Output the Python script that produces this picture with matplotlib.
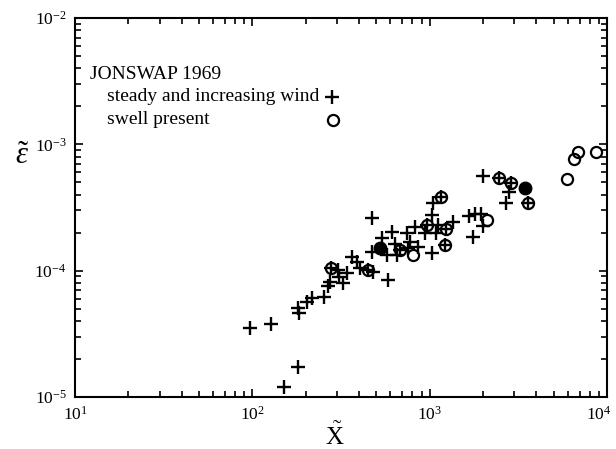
"""
JONSWAP 1969: dimensionless energy vs fetch, log-log scatter.
"""
import matplotlib
matplotlib.use("Agg")
import matplotlib.pyplot as plt
from matplotlib.transforms import ScaledTranslation

plt.rcParams.update({
    "font.family": "Liberation Serif",
    "mathtext.fontset": "custom",
    "mathtext.rm": "Liberation Serif",
    "mathtext.it": "Liberation Serif:italic",
    "font.size": 13,
})

# steady and increasing wind (+)
wind_x = [97, 127, 150, 181, 181, 184, 203, 216, 254, 266, 274, 306, 310, 326,
          343, 364, 388, 405, 480, 471, 471, 537, 573, 585, 611, 638, 652, 743,
          775, 758, 827, 863, 942, 1028, 1028, 1050, 1087, 1114, 1361, 1675,
          1803, 1950, 2009, 1750, 1995, 2812, 2698,
          278, 451, 681, 964, 1156, 1236, 1222, 2471, 2865, 3606]
wind_y = [3.49e-5, 3.76e-5, 1.19e-5, 1.73e-5, 5.06e-5, 4.65e-5, 5.68e-5, 6.04e-5,
          6.21e-5, 7.55e-5, 8.13e-5, 1.01e-4, 8.85e-5, 8.02e-5, 9.62e-5, 1.29e-4,
          1.18e-4, 1.05e-4, 9.8e-5, 2.59e-4, 1.41e-4, 1.80e-4, 1.33e-4, 8.43e-5,
          2.03e-4, 1.64e-4, 1.33e-4, 1.97e-4, 1.69e-4, 1.50e-4, 2.23e-4, 1.55e-4,
          1.97e-4, 2.75e-4, 1.37e-4, 3.41e-4, 1.99e-4, 2.30e-4, 2.44e-4, 2.70e-4,
          2.81e-4, 2.81e-4, 2.25e-4, 1.85e-4, 5.61e-4, 4.22e-4, 3.41e-4,
          1.05e-4, 1.01e-4, 1.46e-4, 2.30e-4, 3.81e-4, 2.15e-4, 1.60e-4,
          5.46e-4, 4.97e-4, 3.41e-4]

# swell present (o)
swell_x = [278, 451, 681, 964, 1156, 1236, 1222, 2471, 2865, 3606,
           804, 2099, 5957, 6517, 6885, 8693]
swell_y = [1.05e-4, 1.01e-4, 1.46e-4, 2.30e-4, 3.81e-4, 2.15e-4, 1.60e-4,
           5.46e-4, 4.97e-4, 3.41e-4,
           1.33e-4, 2.52e-4, 5.35e-4, 7.67e-4, 8.73e-4, 8.73e-4]

# overlapping circles that print as solid dots
solid_x = [525, 3428]
solid_y = [1.50e-4, 4.55e-4]

x_ticks = [10, 100, 1000, 10000]
x_ticklabels = [r"$10^{1}$", r"$10^{2}$", r"$10^{3}$", r"$10^{4}$"]

fig = plt.figure(figsize=(6.16, 4.49), dpi=100)
ax = fig.add_axes([0.1218, 0.1158, 0.8636, 0.8441])

ax.plot(wind_x, wind_y, ls="none", marker="+", ms=9.5, mew=1.7, color="black")
ax.plot(swell_x, swell_y, ls="none", marker="o", ms=8, mew=1.6,
        mfc="none", mec="black")
ax.plot(solid_x, solid_y, ls="none", marker="o", ms=9, color="black")

ax.set_xscale("log")
ax.set_yscale("log")
ax.set_xlim(10, 1e4)
ax.set_ylim(1e-5, 1e-2)
ax.set_xticks(x_ticks)
ax.set_xticklabels(x_ticklabels)

for s in ax.spines.values():
    s.set_linewidth(1.5)
ax.tick_params(which="both", direction="in", top=True, right=True, width=1.2,
               labelsize=12.5)
ax.tick_params(which="major", length=6, pad=6)
ax.tick_params(which="minor", length=4)

# last x label sits flush with the figure edge, as in the print
last = ax.get_xticklabels()[-1]
last.set_transform(last.get_transform()
                   + ScaledTranslation(-6 / 72, 0, fig.dpi_scale_trans))

ax.set_xlabel(r"$\tilde{\mathrm{X}}$", fontsize=18)
ax.xaxis.set_label_coords(0.489, -0.105)
ax.xaxis.label.set_va("center")
ax.set_ylabel(r"$\tilde{\varepsilon}$", fontsize=22, rotation=0)
ax.yaxis.set_label_coords(-0.10, 0.635)
ax.yaxis.label.set_va("center")

# hand-made legend
ax.text(0.028, 0.852, "JONSWAP 1969", transform=ax.transAxes, va="center",
        fontsize=14)
ax.text(0.060, 0.792, "steady and increasing wind", transform=ax.transAxes,
        va="center", fontsize=14)
ax.text(0.060, 0.731, "swell present", transform=ax.transAxes, va="center",
        fontsize=14)
ax.plot([0.483], [0.792], transform=ax.transAxes, marker="+", ms=9.5, mew=1.7,
        color="black")
ax.plot([0.485], [0.731], transform=ax.transAxes, marker="o", ms=8, mew=1.6,
        mfc="none", mec="black")

fig.savefig("out.png", dpi=100)
